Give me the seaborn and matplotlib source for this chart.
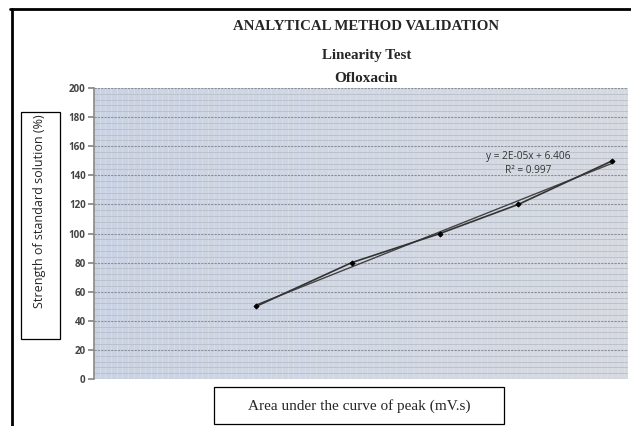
import numpy as np
import pandas as pd
import matplotlib
matplotlib.use("Agg")
import matplotlib.pyplot as plt
from matplotlib.lines import Line2D
from matplotlib.patches import Rectangle
from matplotlib.ticker import MultipleLocator
from matplotlib.colors import LinearSegmentedColormap
import seaborn as sns

# Data
area = [2.28e6, 3.62e6, 4.86e6, 5.96e6, 7.28e6]
strength = [50, 80, 100, 120, 150]
y_ticks = [0, 20, 40, 60, 80, 100, 120, 140, 160, 180, 200]
title1 = "ANALYTICAL METHOD VALIDATION"
title2 = "Linearity Test"
title3 = "Ofloxacin"
eq_text = "y = 2E-05x + 6.406"
r2_text = "R\u00b2 = 0.997"
xlabel = "Area under the curve of peak (mV.s)"
ylabel = "Strength of standard solution (%)"

sns.set_theme(style="white")
plt.rcParams['font.family'] = ['Open Sans', 'DejaVu Sans']

df = pd.DataFrame({"area": area, "strength": strength})

fig = plt.figure(figsize=(6.31, 4.26), dpi=100)
ax = fig.add_axes([94/631, 1-379/426, (628-94)/631, (379-88)/426])
ax.set_facecolor("#cdd5e3")

# gradient background
grad = np.linspace(0, 1, 256).reshape(1, -1)
cmap = LinearSegmentedColormap.from_list("bg", ["#cad3e3", "#d2d8e4", "#d7dae0"])
ax.imshow(grad, extent=[0, 7.5e6, 0, 200], aspect="auto", cmap=cmap, zorder=0)

ax.set_xlim(0, 7.5e6)
ax.set_ylim(0, 200)

# grid
ax.yaxis.set_major_locator(MultipleLocator(20))
ax.yaxis.set_minor_locator(MultipleLocator(4))
ax.xaxis.set_minor_locator(MultipleLocator(8e4))
ax.grid(which="major", axis="y", color="#8a8f99", linestyle=(0, (2, 1)), linewidth=0.8, zorder=1)
ax.grid(which="minor", axis="y", color="#b8bec9", linestyle="-", linewidth=0.6, zorder=1)
ax.grid(which="minor", axis="x", color="#dce1e8", linestyle="-", linewidth=0.5, zorder=1)
ax.set_axisbelow(True)

sns.lineplot(data=df, x="area", y="strength", ax=ax, color="#333333", linewidth=1.2,
             marker="D", markersize=2.5, markeredgecolor="black", markerfacecolor="black", zorder=4)

coef = np.polyfit(area, strength, 1)
xs = np.array([min(area), max(area)])
sns.lineplot(x=xs, y=np.polyval(coef, xs), ax=ax, color="#444444", linewidth=1.0, zorder=3)

ax.set_xticks([])
ax.set_yticks(y_ticks)
ax.set_yticklabels([str(t) for t in y_ticks], fontsize=7, color="#444444", fontweight="bold")
ax.tick_params(axis="y", which="major", length=4, direction="out", color="#888888", left=True, pad=2)
ax.tick_params(axis="y", which="minor", length=0)
ax.set_xlabel("")
ax.set_ylabel("")
for s in ["top", "right", "bottom"]:
    ax.spines[s].set_visible(False)
ax.spines["left"].set_color("#888888")
ax.spines["left"].set_linewidth(1.2)

ax.text(0.813, 0.766, eq_text, transform=ax.transAxes, ha="center", va="center",
        fontsize=7.3, color="#333333")
ax.text(0.813, 0.715, r2_text, transform=ax.transAxes, ha="center", va="center",
        fontsize=7.3, color="#333333")

# titles
serif = ['Liberation Serif', 'DejaVu Serif']
fig.text(366/631, 1-27/426, title1, ha="center", va="center", fontsize=10.7,
         fontweight="bold", family=serif)
fig.text(367/631, 1-56/426, title2, ha="center", va="center", fontsize=10.8,
         fontweight="bold", family=serif)
fig.text(366/631, 1-79/426, title3, ha="center", va="center", fontsize=11,
         fontweight="bold", family=serif)

# axis label boxes
fig.add_artist(Rectangle((214/631, 1-424/426), (504-214)/631, (424-387)/426,
                         transform=fig.transFigure, fill=False, edgecolor="black", linewidth=0.9))
fig.text(359/631, 1-406/426, xlabel, ha="center", va="center", fontsize=11, family=serif)

fig.add_artist(Rectangle((21/631, 1-339/426), (60-21)/631, (339-112)/426,
                         transform=fig.transFigure, fill=False, edgecolor="black", linewidth=0.9))
fig.text(40/631, 1-211/426, ylabel, ha="center", va="center", fontsize=9, rotation=90)

# frame lines
fig.add_artist(Line2D([10/631, 1], [1-9/426, 1-9/426], transform=fig.transFigure,
                      color="black", linewidth=2))
fig.add_artist(Line2D([12/631, 12/631], [0, 1-9/426], transform=fig.transFigure,
                      color="black", linewidth=2))

fig.savefig("out.png", dpi=100)
